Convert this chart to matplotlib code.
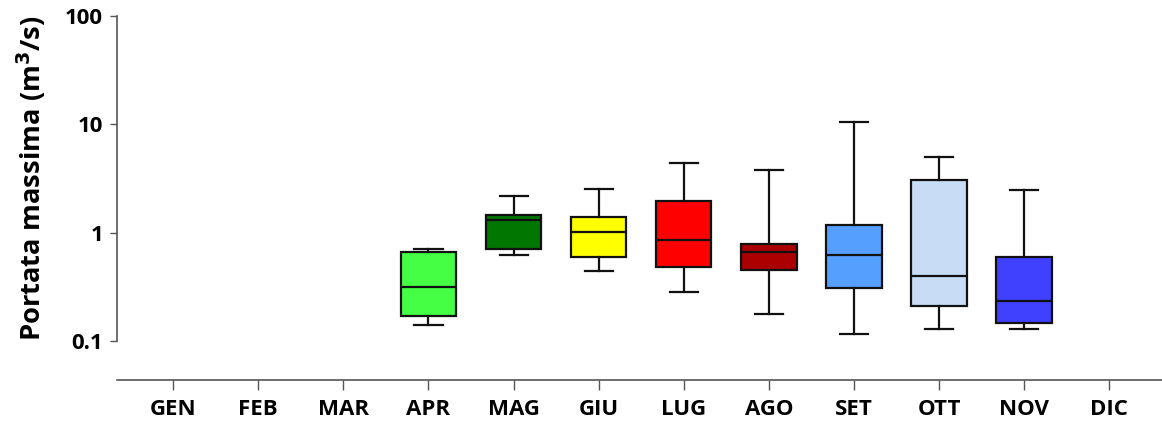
import matplotlib.pyplot as plt
from matplotlib.ticker import FixedLocator, NullLocator

# months and box statistics
months = ['GEN', 'FEB', 'MAR', 'APR', 'MAG', 'GIU', 'LUG', 'AGO', 'SET', 'OTT', 'NOV', 'DIC']
box_months = ['APR', 'MAG', 'GIU', 'LUG', 'AGO', 'SET', 'OTT', 'NOV']
whislo = [0.139, 0.617, 0.442, 0.284, 0.178, 0.117, 0.128, 0.128]
q1 = [0.170, 0.707, 0.590, 0.481, 0.448, 0.308, 0.211, 0.146]
med = [0.316, 1.30, 1.02, 0.861, 0.667, 0.617, 0.394, 0.233]
q3 = [0.667, 1.44, 1.38, 1.95, 0.786, 1.17, 3.03, 0.596]
whishi = [0.707, 2.20, 2.54, 4.35, 3.77, 10.4, 4.98, 2.45]
colors = ['#44ff44', '#007700', '#ffff00', '#ff0000', '#aa0000', '#55a0ff', '#c8ddf5', '#4040ff']
yticks = [0.1, 1, 10, 100]
ytick_labels = ['0.1', '1', '10', '100']

plt.rcParams['font.family'] = ['Open Sans', 'DejaVu Sans']
plt.rcParams['font.weight'] = 'bold'

fig = plt.figure(figsize=(11.62, 4.30), dpi=100)
ax = fig.add_axes([0.1007, 0.1163, 0.8993, 0.8465])

stats = []
for i in range(len(box_months)):
    stats.append({'whislo': whislo[i], 'q1': q1[i], 'med': med[i],
                  'q3': q3[i], 'whishi': whishi[i], 'fliers': []})
pos = [months.index(m) + 1 for m in box_months]

bp = ax.bxp(stats, positions=pos, widths=0.65, capwidths=0.33, patch_artist=True,
            showfliers=False,
            boxprops=dict(linewidth=1.6, edgecolor='#111111'),
            medianprops=dict(linewidth=1.6, color='#111111'),
            whiskerprops=dict(linewidth=1.6, color='#111111'),
            capprops=dict(linewidth=1.6, color='#111111'))
for patch, c in zip(bp['boxes'], colors):
    patch.set_facecolor(c)

ax.set_yscale('log')
ax.set_ylim(0.0436, 100)
ax.set_xlim(0.34, 12.62)
ax.yaxis.set_major_locator(FixedLocator(yticks))
ax.yaxis.set_minor_locator(NullLocator())
ax.set_yticklabels(ytick_labels, fontsize=16, fontweight='bold')
ax.set_xticks(range(1, 13))
ax.set_xticklabels(months, fontsize=16, fontweight='bold')

for s in ['top', 'right']:
    ax.spines[s].set_visible(False)
ax.spines['left'].set_bounds(0.1, 100)
ax.spines['left'].set_color('#555555')
ax.spines['bottom'].set_color('#555555')
ax.spines['left'].set_linewidth(1.2)
ax.spines['bottom'].set_linewidth(1.2)
ax.tick_params(axis='y', length=5, width=1.0, color='#555555', pad=5)
ax.tick_params(axis='x', length=7.5, width=1.0, color='#555555', pad=6)

ax.set_ylabel('Portata massima (m$^{\\mathbf{3}}$/s)', fontsize=19.7, fontweight='bold')
ax.yaxis.set_label_coords(-0.066, 0.554)

fig.savefig('out.png', dpi=100)
